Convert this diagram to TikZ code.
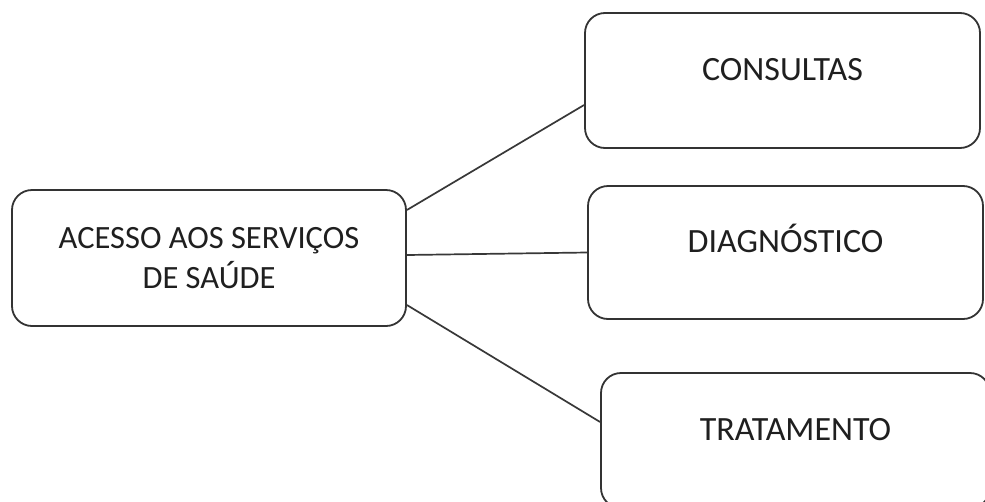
\documentclass[tikz,border=0pt]{standalone}
\usepackage{fontspec}
\setmainfont{Carlito}
\begin{document}
\begin{tikzpicture}[x=1pt,y=-1pt,
  box/.style={draw=black!80, line width=1.8pt, rounded corners=20pt, fill=white,
    font=\fontsize{34}{40}\selectfont, text=black!88},
  leaf/.style={box, text height=13pt, text depth=13pt},
  link/.style={draw=black!78, line width=1.7pt}]
\useasboundingbox (0,0) rectangle (985,501);
\clip (0,0) rectangle (985,501);
\fill[white] (0,0) rectangle (985,501);
\node[box, font=\fontsize{32.5}{40}\selectfont, minimum width=394pt, minimum height=136pt, align=center] (acc) at (209,258)
  {ACESSO AOS SERVIÇOS\\DE SAÚDE};
\node[leaf, minimum width=395pt, minimum height=135pt] (cons) at (782.5,80.5) {CONSULTAS};
\node[leaf, minimum width=395pt, minimum height=133pt] (diag) at (785.5,252.5) {DIAGNÓSTICO};
\node[leaf, minimum width=389pt, minimum height=135pt] (trat) at (795.5,440.5) {TRATAMENTO};
\draw[link] ([yshift=48pt]acc.east) -- ([yshift=-24.5pt]cons.west);
\draw[link] ([yshift=3pt]acc.east) -- (diag.west);
\draw[link] ([yshift=-47pt]acc.east) -- ([yshift=18.5pt]trat.west);
\end{tikzpicture}
\end{document}
